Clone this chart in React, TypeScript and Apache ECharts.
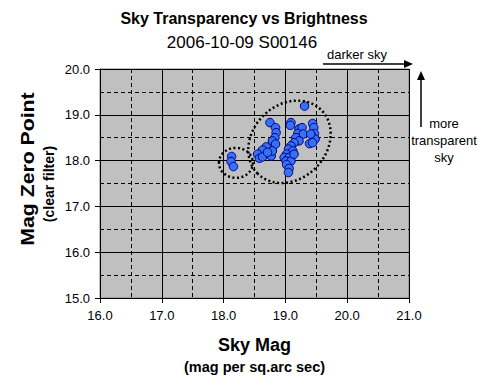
import React, { useEffect, useRef } from "react";
import * as echarts from "echarts";

const skyMag: number[] = [
  18.13, 18.12, 18.16,
  19.31,
  18.75, 18.84, 18.85, 18.83, 18.79, 18.84, 18.69, 18.63, 18.55, 18.58, 18.63, 18.77, 18.79, 18.71,
  19.09, 19.08, 19.22, 19.27, 19.20, 19.29, 19.17, 19.22, 19.14, 19.09, 19.05, 19.12, 19.02, 18.98, 19.06, 19.01, 19.09, 19.02, 19.06, 19.05, 19.14,
  19.44, 19.46, 19.47, 19.48, 19.41, 19.39, 19.44,
];
const zeroPoint: number[] = [
  18.09, 17.98, 17.87,
  19.19,
  18.83, 18.72, 18.61, 18.50, 18.43, 18.36, 18.30, 18.23, 18.14, 18.05, 18.08, 18.10, 18.21, 18.18,
  18.83, 18.77, 18.69, 18.72, 18.59, 18.58, 18.50, 18.43, 18.39, 18.32, 18.25, 18.21, 18.14, 18.07, 18.07, 17.99, 17.99, 17.91, 17.83, 17.74, 18.14,
  18.81, 18.72, 18.59, 18.47, 18.58, 18.37, 18.39,
];

// annotation ellipses: centers in data units
const ellipseCenters: [number, number][] = [
  [18.2, 17.95],
  [19.066, 18.41],
];

const FONT = "'Liberation Sans', Arial, sans-serif";

export default function App() {
  const ref = useRef<HTMLDivElement>(null);
  useEffect(() => {
    document.body.style.margin = "0";
    const chart = echarts.init(ref.current!, null, { renderer: "svg" });
    const data = skyMag.map((x, i) => [x, zeroPoint[i]]);
    chart.setOption({
      animation: false,
      backgroundColor: "#ffffff",
      textStyle: { fontFamily: FONT },
      grid: {
        left: 100,
        right: 79,
        top: 69,
        bottom: 93,
        show: true,
        backgroundColor: "#C0C0C0",
        borderColor: "#808080",
        borderWidth: 1,
      },
      xAxis: {
        type: "value",
        min: 16,
        max: 21,
        interval: 1,
        axisLine: { lineStyle: { color: "#000", width: 1 } },
        axisTick: { show: true, length: 5, lineStyle: { color: "#000" } },
        axisLabel: {
          formatter: (v: number) => v.toFixed(1),
          fontSize: 13,
          color: "#000",
          margin: 11,
          fontFamily: FONT,
        },
        splitLine: { show: true, lineStyle: { color: "#000", width: 1 } },
        minorTick: { show: false, splitNumber: 2 },
        minorSplitLine: { show: true, lineStyle: { color: "#000", type: [4, 3], width: 1 } },
      },
      yAxis: {
        type: "value",
        min: 15,
        max: 20,
        interval: 1,
        axisLine: { show: true, lineStyle: { color: "#000", width: 1 } },
        axisTick: { show: true, length: 5, lineStyle: { color: "#000" } },
        axisLabel: {
          formatter: (v: number) => v.toFixed(1),
          fontSize: 13,
          color: "#000",
          margin: 10,
          fontFamily: FONT,
        },
        splitLine: { show: true, lineStyle: { color: "#000", width: 1 } },
        minorTick: { show: false, splitNumber: 2 },
        minorSplitLine: { show: true, lineStyle: { color: "#000", type: [4, 3], width: 1 } },
      },
      series: [
        {
          type: "scatter",
          data,
          symbol: "circle",
          symbolSize: 8.5,
          itemStyle: { color: "#3670F5", borderColor: "#000080", borderWidth: 1, opacity: 1 },
          z: 5,
        },
      ],
    });

    const c0 = chart.convertToPixel({ gridIndex: 0 }, ellipseCenters[0]) as number[];
    const c1 = chart.convertToPixel({ gridIndex: 0 }, ellipseCenters[1]) as number[];
    const dotted = { fill: null, stroke: "#000", lineWidth: 2.5, lineDash: [2, 2.5] };

    chart.setOption({
      graphic: [
        { type: "text", x: 244, y: 18, style: { text: "Sky Transparency vs Brightness", font: `bold 16px ${FONT}`, fill: "#000", align: "center", verticalAlign: "middle" } },
        { type: "text", x: 242, y: 42, style: { text: "2006-10-09 S00146", font: `17px ${FONT}`, fill: "#000", align: "center", verticalAlign: "middle" } },
        { type: "text", x: 254.5, y: 345, style: { text: "Sky Mag", font: `bold 18px ${FONT}`, fill: "#000", align: "center", verticalAlign: "middle" } },
        { type: "text", x: 254.5, y: 367, style: { text: "(mag per sq.arc sec)", font: `bold 14.5px ${FONT}`, fill: "#000", align: "center", verticalAlign: "middle" } },
        { type: "text", x: 28, y: 169, rotation: Math.PI / 2, scaleX: 1.18, style: { text: "Mag Zero Point", font: `bold 18px ${FONT}`, fill: "#000", align: "center", verticalAlign: "middle" } },
        { type: "text", x: 48.5, y: 184, rotation: Math.PI / 2, style: { text: "(clear filter)", font: `bold 14px ${FONT}`, fill: "#000", align: "center", verticalAlign: "middle" } },
        { type: "text", x: 357, y: 54, style: { text: "darker sky", font: `13px ${FONT}`, fill: "#000", align: "center", verticalAlign: "middle" } },
        { type: "line", shape: { x1: 323, y1: 64, x2: 406, y2: 64 }, style: { stroke: "#000", lineWidth: 1.5 } },
        { type: "polygon", shape: { points: [[413, 64], [404, 60], [404, 68]] }, style: { fill: "#000" } },
        { type: "line", shape: { x1: 421, y1: 127, x2: 421, y2: 78 }, style: { stroke: "#000", lineWidth: 1.5 } },
        { type: "polygon", shape: { points: [[421, 71], [417, 80], [425, 80]] }, style: { fill: "#000" } },
        { type: "text", x: 444, y: 123, style: { text: "more", font: `13px ${FONT}`, fill: "#000", align: "center", verticalAlign: "middle" } },
        { type: "text", x: 444, y: 140, style: { text: "transparent", font: `13px ${FONT}`, fill: "#000", align: "center", verticalAlign: "middle" } },
        { type: "text", x: 444, y: 157, style: { text: "sky", font: `13px ${FONT}`, fill: "#000", align: "center", verticalAlign: "middle" } },
        { type: "ellipse", x: c0[0], y: c0[1], shape: { cx: 0, cy: 0, rx: 17, ry: 15 }, style: dotted, z: 10 },
        { type: "ellipse", x: c1[0], y: c1[1], rotation: 0.785, shape: { cx: 0, cy: 0, rx: 45, ry: 37 }, style: dotted, z: 10 },
      ],
    });
    return () => chart.dispose();
  }, []);
  return <div ref={ref} style={{ width: 488, height: 391 }} />;
}
